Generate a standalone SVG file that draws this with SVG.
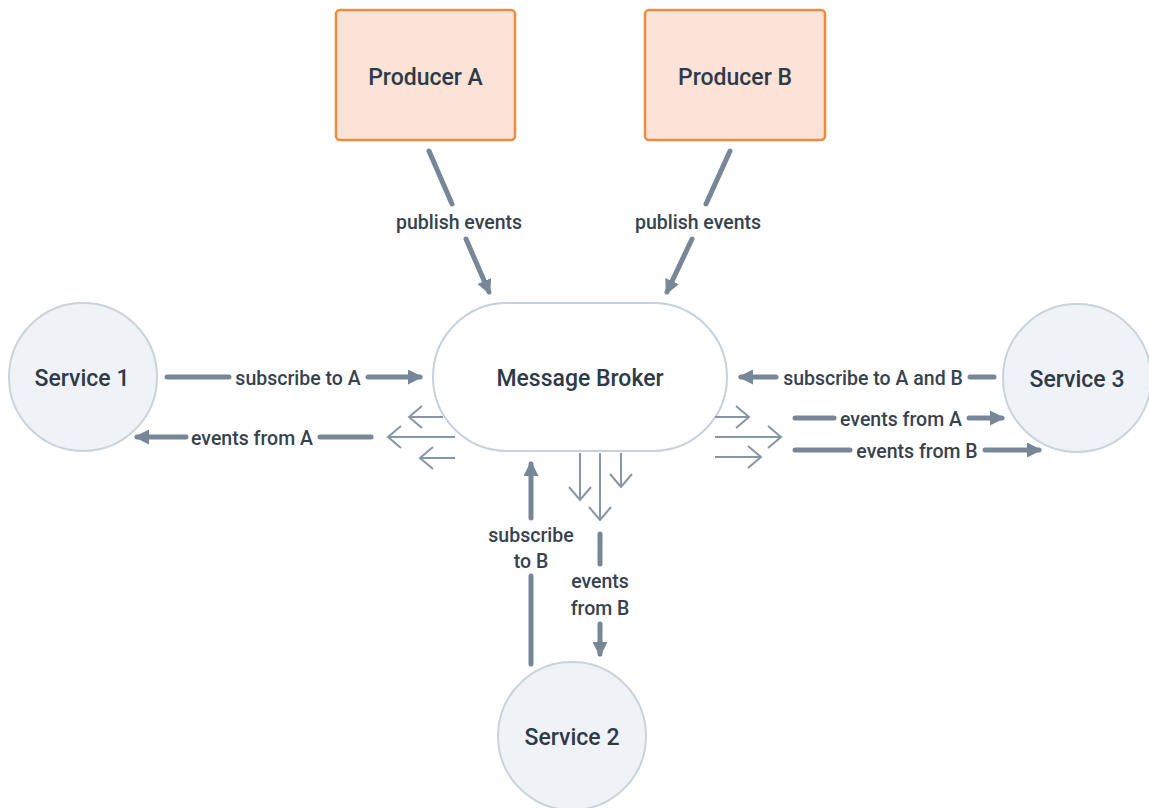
<svg xmlns="http://www.w3.org/2000/svg" width="1149" height="808" viewBox="0 0 1149 808">
<defs>
<style>
.prod{fill:#FBE4D7;stroke:#EE8B43;stroke-width:2.5}
.svc{fill:#EFF3F7;stroke:#C9D3DC;stroke-width:2}
.broker{fill:#FFFFFF;stroke:#C6D1DB;stroke-width:2}
.nt{font-family:Roboto,"Noto Sans",sans-serif;font-weight:500;font-size:23px;fill:#2E3A48;text-anchor:middle;dominant-baseline:central}
.lt{font-family:Roboto,"Noto Sans",sans-serif;font-weight:500;font-size:19.5px;fill:#36424F;text-anchor:middle;dominant-baseline:central}
.thick{stroke:#778798;stroke-width:5;stroke-linecap:round;fill:none}
.thin{stroke:#8796A6;stroke-width:2;fill:none}
</style>
<marker id="ah" viewBox="0 0 10 10" refX="8" refY="5" markerWidth="15" markerHeight="15" markerUnits="userSpaceOnUse" orient="auto">
<path d="M0,0 L10,5 L0,10 Z" fill="#778798"/>
</marker>
<marker id="oh" viewBox="0 0 20 24" refX="17" refY="12" markerWidth="20" markerHeight="24" markerUnits="userSpaceOnUse" orient="auto">
<path d="M4,1 L17,12 L4,23" fill="none" stroke="#8796A6" stroke-width="2"/>
</marker>
</defs>

<g id="producer-a"><rect class="prod" x="336" y="10" width="179" height="130" rx="4"/><text class="nt" x="425.5" y="77">Producer A</text></g>
<g id="producer-b"><rect class="prod" x="645" y="10" width="180" height="130" rx="4"/><text class="nt" x="735" y="77">Producer B</text></g>
<g id="broker"><rect class="broker" x="433" y="303" width="294" height="148" rx="74"/><text class="nt" x="580" y="378">Message Broker</text></g>
<g id="service-1"><circle class="svc" cx="83" cy="377" r="74"/><text class="nt" x="82" y="378">Service 1</text></g>
<g id="service-2"><circle class="svc" cx="572" cy="736" r="74"/><text class="nt" x="572" y="737">Service 2</text></g>
<g id="service-3"><circle class="svc" cx="1077" cy="378" r="74"/><text class="nt" x="1077" y="379">Service 3</text></g>

<g id="connectors">
<!-- publish A -->
<line class="thick" x1="429" y1="151" x2="452" y2="204"/>
<line class="thick" x1="466" y1="239" x2="489" y2="292" marker-end="url(#ah)"/>
<text class="lt" x="459" y="222">publish events</text>
<!-- publish B -->
<line class="thick" x1="730" y1="151" x2="706" y2="204"/>
<line class="thick" x1="692" y1="239" x2="667" y2="292" marker-end="url(#ah)"/>
<text class="lt" x="698" y="222">publish events</text>
<!-- subscribe to A -->
<line class="thick" x1="167" y1="377" x2="229" y2="377"/>
<line class="thick" x1="368" y1="377" x2="420" y2="377" marker-end="url(#ah)"/>
<text class="lt" x="298" y="378">subscribe to A</text>
<!-- events from A to service 1 -->
<line class="thick" x1="371" y1="437" x2="320" y2="437"/>
<line class="thick" x1="186" y1="437" x2="137" y2="437" marker-end="url(#ah)"/>
<text class="lt" x="252" y="438">events from A</text>
<!-- subscribe to A and B -->
<line class="thick" x1="994" y1="377" x2="970" y2="377"/>
<line class="thick" x1="776" y1="377" x2="741" y2="377" marker-end="url(#ah)"/>
<text class="lt" x="873" y="378">subscribe to A and B</text>
<!-- events from A to service 3 -->
<line class="thick" x1="795" y1="418" x2="834" y2="418"/>
<line class="thick" x1="969" y1="418" x2="1002" y2="418" marker-end="url(#ah)"/>
<text class="lt" x="901" y="419">events from A</text>
<!-- events from B to service 3 -->
<line class="thick" x1="795" y1="450" x2="850" y2="450"/>
<line class="thick" x1="985" y1="450" x2="1039" y2="450" marker-end="url(#ah)"/>
<text class="lt" x="917" y="451">events from B</text>
<!-- subscribe to B -->
<line class="thick" x1="531" y1="664" x2="531" y2="576"/>
<line class="thick" x1="531" y1="518" x2="531" y2="464" marker-end="url(#ah)"/>
<text class="lt" x="531" y="535">subscribe</text>
<text class="lt" x="531" y="561">to B</text>
<!-- events from B to service 2 -->
<line class="thick" x1="600" y1="534" x2="600" y2="564"/>
<line class="thick" x1="600" y1="624" x2="600" y2="654" marker-end="url(#ah)"/>
<text class="lt" x="600" y="581">events</text>
<text class="lt" x="600" y="608">from B</text>

<!-- thin fan-out arrows left -->
<line class="thin" x1="443" y1="417" x2="409" y2="417" marker-end="url(#oh)"/>
<line class="thin" x1="455" y1="437" x2="388" y2="437" marker-end="url(#oh)"/>
<line class="thin" x1="455" y1="458" x2="420" y2="458" marker-end="url(#oh)"/>
<!-- right -->
<line class="thin" x1="715" y1="417" x2="749" y2="417" marker-end="url(#oh)"/>
<line class="thin" x1="715" y1="437" x2="781" y2="437" marker-end="url(#oh)"/>
<line class="thin" x1="715" y1="457" x2="761" y2="457" marker-end="url(#oh)"/>
<!-- bottom -->
<line class="thin" x1="580" y1="453" x2="580" y2="500" marker-end="url(#oh)"/>
<line class="thin" x1="600" y1="453" x2="600" y2="520" marker-end="url(#oh)"/>
<line class="thin" x1="621" y1="453" x2="621" y2="487" marker-end="url(#oh)"/>
</g>
</svg>
